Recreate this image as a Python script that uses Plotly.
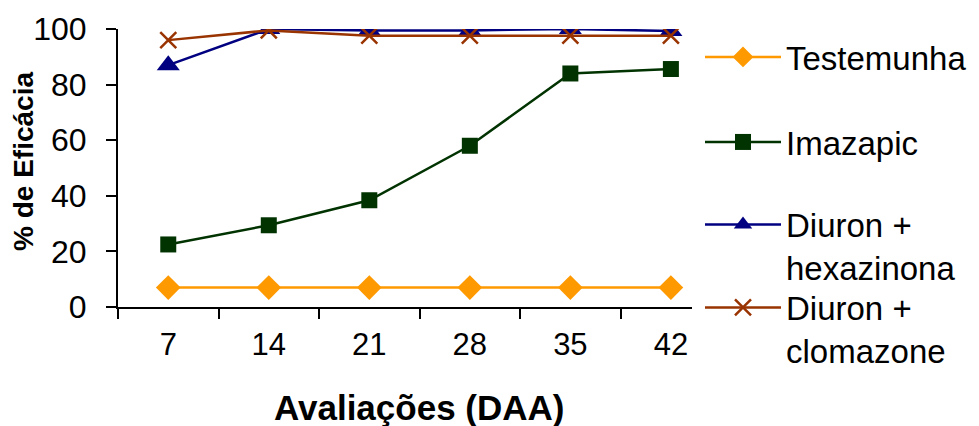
import plotly.graph_objects as go

# Evaluation days after application (DAA)
dias = ["7", "14", "21", "28", "35", "42"]

# Weed-control efficacy (%) per treatment
testemunha = [7, 7, 7, 7, 7, 7]
imazapic = [22.5, 29.4, 38.4, 58.0, 84.0, 85.6]
diuron_hexazinona = [87.0, 100.0, 99.5, 99.5, 100.0, 99.3]
diuron_clomazone = [96.0, 99.5, 97.6, 97.6, 97.6, 97.6]

FONT = "Liberation Sans, Arial, sans-serif"

series = [
    ("Testemunha", testemunha, "#FF9900", "diamond", 19, "legend"),
    ("Imazapic", imazapic, "#003300", "square", 16, "legend2"),
    ("Diuron +<br>hexazinona", diuron_hexazinona, "#000080", "triangle-up", 20, "legend3"),
    ("Diuron +<br>clomazone", diuron_clomazone, "#993300", "x-thin-open", 16, "legend4"),
]

fig = go.Figure()
for name, vals, color, symbol, size, leg in series:
    marker = dict(symbol=symbol, size=size, color=color)
    if symbol == "x-thin-open":
        marker["line"] = dict(color=color, width=2.5)
    fig.add_trace(go.Scatter(
        x=dias, y=vals, name=name, mode="lines+markers",
        line=dict(color=color, width=2.5),
        marker=marker, legend=leg,
    ))

W, H = 979, 426
L, R, T, B = 118, 287, 29, 119
pw, ph = W - L - R, H - T - B


def px_x(px):
    return (px - L) / pw


def px_y(py):
    return 1 - (py - T) / ph


legend_common = dict(
    font=dict(family=FONT, size=33, color="black"),
    bgcolor="rgba(0,0,0,0)",
    xanchor="left", yanchor="middle",
    valign="top",
    itemwidth=76,
)

fig.update_layout(
    width=W, height=H,
    margin=dict(l=L, r=R, t=T, b=B, autoexpand=False),
    paper_bgcolor="white", plot_bgcolor="white",
    font=dict(family=FONT, size=31, color="black"),
    showlegend=True,
    legend=dict(x=px_x(700), y=px_y(57), **legend_common),
    legend2=dict(x=px_x(700), y=px_y(142), **legend_common),
    legend3=dict(x=px_x(700), y=px_y(246), **legend_common),
    legend4=dict(x=px_x(700), y=px_y(329), **legend_common),
    xaxis=dict(
        type="category", range=[-0.5, 5.21],
        tickson="boundaries", ticks="outside", ticklen=10, tickwidth=2,
        tickcolor="black", showline=True, linecolor="black", linewidth=2,
        showgrid=False, zeroline=False,
        tickfont=dict(family=FONT, size=31, color="black"),
        ticklabelstandoff=9,
    ),
    yaxis=dict(
        range=[0, 100], tickvals=[0, 20, 40, 60, 80, 100],
        ticks="outside", ticklen=10, tickwidth=2, tickcolor="black",
        showline=True, linecolor="black", linewidth=2,
        showgrid=False, zeroline=False,
        tickfont=dict(family=FONT, size=32, color="black"),
        ticklabelstandoff=13,
    ),
    annotations=[
        dict(text="<b>Avaliações (DAA)</b>", xref="paper", yref="paper",
             x=px_x(419), y=px_y(407), xanchor="center", yanchor="middle",
             showarrow=False, font=dict(family=FONT, size=35, color="black")),
        dict(text="<b>% de Eficácia</b>", xref="paper", yref="paper",
             x=px_x(23), y=px_y(162), xanchor="center", yanchor="middle",
             textangle=-90, showarrow=False,
             font=dict(family=FONT, size=28, color="black")),
    ],
)

fig.write_html("out.html")
